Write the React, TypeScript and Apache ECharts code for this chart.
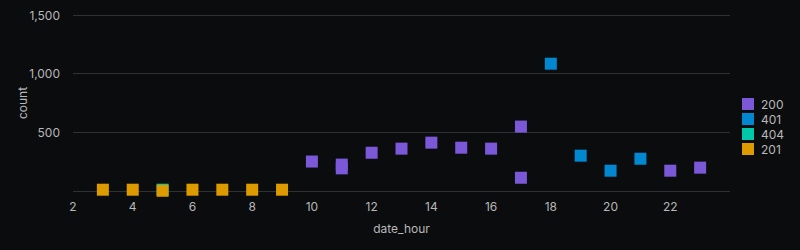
import React, { useEffect, useRef } from "react";
import * as echarts from "echarts";

const hours200 = [10, 11, 11, 12, 13, 14, 15, 16, 17, 17, 22, 23];
const counts200 = [251, 225, 193, 326, 361, 412, 369, 361, 549, 113, 173, 199];
const hours401 = [18, 19, 20, 21];
const counts401 = [1085, 301, 173, 275];
const hours404 = [5];
const counts404 = [11];
const hours201 = [3, 4, 5, 6, 7, 8, 9];
const counts201 = [11, 11, 2, 11, 11, 11, 11];

const seriesNames = ["200", "401", "404", "201"];
const seriesColors = ["#7B58D8", "#0288D1", "#00C9AB", "#DE9B00"];

const zip = (xs: number[], ys: number[]) => xs.map((x, i) => [x, ys[i]]);

export default function App() {
  const ref = useRef<HTMLDivElement>(null);
  useEffect(() => {
    document.body.style.margin = "0";
    document.body.style.background = "#0b0c0e";
    if (!ref.current) return;
    const chart = echarts.init(ref.current, undefined, { renderer: "svg" });
    const datasets = [
      zip(hours200, counts200),
      zip(hours401, counts401),
      zip(hours404, counts404),
      zip(hours201, counts201),
    ];
    const textColor = "#b8b8b8";
    chart.setOption({
      animation: false,
      backgroundColor: "#0b0c0e",
      textStyle: { fontFamily: "Inter, 'Noto Sans', sans-serif" },
      grid: { left: 73, right: 70, top: 15, bottom: 59 },
      legend: {
        orient: "vertical",
        left: 742,
        top: 98,
        itemWidth: 12,
        itemHeight: 12,
        itemGap: 3,
        icon: "rect",
        padding: 0,
        data: seriesNames,
        textStyle: { color: textColor, fontSize: 12, padding: [0, 0, 0, 2] },
      },
      xAxis: {
        type: "value",
        min: 2,
        max: 24,
        interval: 2,
        name: "date_hour",
        nameLocation: "middle",
        nameGap: 31,
        nameMoveOverlap: false,
        nameTextStyle: { color: textColor, fontSize: 12 },
        axisLine: { show: false },
        axisTick: { show: false },
        splitLine: { show: false },
        axisLabel: { color: textColor, fontSize: 12, showMaxLabel: false, margin: 9 },
      },
      yAxis: {
        type: "value",
        min: 0,
        max: 1500,
        interval: 500,
        name: "count",
        nameLocation: "middle",
        nameGap: 45,
        nameMoveOverlap: false,
        nameTextStyle: { color: textColor, fontSize: 12 },
        axisLine: { show: false },
        axisTick: { show: false },
        splitLine: { show: true, lineStyle: { color: "#303133", width: 1 } },
        axisLabel: {
          color: textColor,
          fontSize: 12,
          margin: 13,
          formatter: (v: number) => (v === 0 ? "" : v.toLocaleString("en-US")),
        },
      },
      series: seriesNames.map((name, i) => ({
        name,
        type: "scatter",
        symbol: "rect",
        symbolSize: 12,
        itemStyle: { color: seriesColors[i], opacity: 1 },
        data: datasets[i],
      })),
    });
    return () => chart.dispose();
  }, []);
  return <div ref={ref} style={{ width: 800, height: 250 }} />;
}
